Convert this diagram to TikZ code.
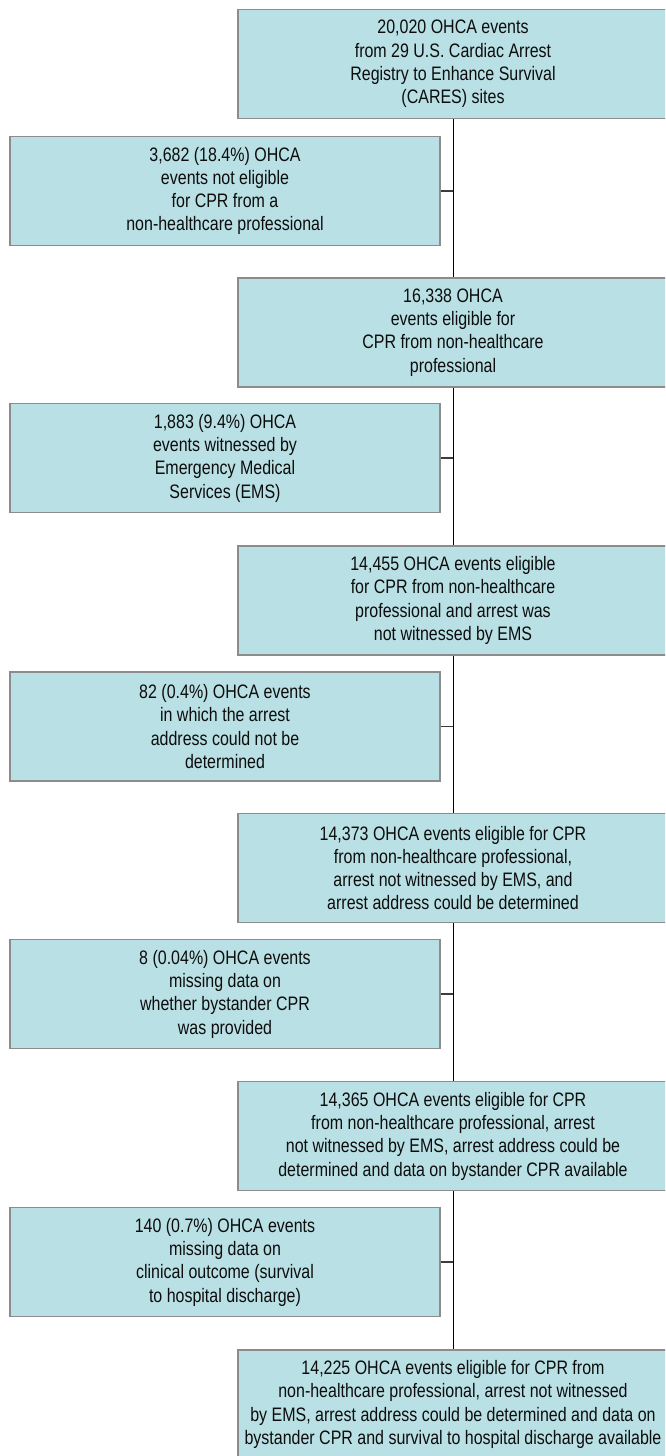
\documentclass[tikz,border=0pt]{standalone}
\usepackage{fontspec}
\setmainfont{Liberation Sans}[FakeStretch=0.82]
\definecolor{boxfill}{RGB}{185,224,228}
\definecolor{boxline}{RGB}{140,140,140}
\definecolor{conn}{RGB}{60,60,60}
\begin{document}
\begin{tikzpicture}[x=1pt,y=-1pt,
  flowbox/.style={draw=boxline,line width=1.3pt,fill=boxfill,inner sep=0pt,
    minimum height=109pt,align=center,
    font=\fontsize{19.5}{23.3}\selectfont,text=black!95},
  rbox/.style={flowbox,minimum width=430pt},
  lbox/.style={flowbox,minimum width=430pt},
  vline/.style={draw=black,line width=1pt},
  hline/.style={draw=conn,line width=1.5pt}]
\clip (0,0) rectangle (665,1456);
\fill[white] (0,0) rectangle (665,1456);

\node[rbox] (r1) at (453,64) {20,020 OHCA events\\from 29 U.S. Cardiac Arrest\\Registry to Enhance Survival\\(CARES) sites};
\node[lbox] (l1) at (225,191) {3,682 (18.4\%) OHCA\\events not eligible\\for CPR from a\\non-healthcare professional};
\node[rbox] (r2) at (453,332.5) {16,338 OHCA\\events eligible for\\CPR from non-healthcare\\professional};
\node[lbox] (l2) at (225,458) {1,883 (9.4\%) OHCA\\events witnessed by\\Emergency Medical\\Services (EMS)};
\node[rbox] (r3) at (453,600.5) {14,455 OHCA events eligible\\for CPR from non-healthcare\\professional and arrest was\\not witnessed by EMS};
\node[lbox] (l3) at (225,726.5) {82 (0.4\%) OHCA events\\in which the arrest\\address could not be\\determined};
\node[rbox] (r4) at (453,868) {14,373 OHCA events eligible for CPR\\from non-healthcare professional,\\arrest not witnessed by EMS, and\\arrest address could be determined};
\node[lbox] (l4) at (225,994) {8 (0.04\%) OHCA events\\missing data on\\whether bystander CPR\\was provided};
\node[rbox] (r5) at (453,1136) {14,365 OHCA events eligible for CPR\\from non-healthcare professional, arrest\\not witnessed by EMS, arrest address could be\\determined and data on bystander CPR available};
\node[lbox] (l5) at (225,1262) {140 (0.7\%) OHCA events\\missing data on\\clinical outcome (survival\\to hospital discharge)};
\node[rbox] (r6) at (453,1404.5) {14,225 OHCA events eligible for CPR from\\non-healthcare professional, arrest not witnessed\\by EMS, arrest address could be determined and data on\\bystander CPR and survival to hospital discharge available};

\draw[vline] (r1.south) -- (r2.north);
\draw[vline] (r2.south) -- (r3.north);
\draw[vline] (r3.south) -- (r4.north);
\draw[vline] (r4.south) -- (r5.north);
\draw[vline] (r5.south) -- (r6.north);

\draw[hline] (l1.east) -- (l1.east -| r1.south);
\draw[hline] (l2.east) -- (l2.east -| r1.south);
\draw[hline] (l3.east) -- (l3.east -| r1.south);
\draw[hline] (l4.east) -- (l4.east -| r1.south);
\draw[hline] (l5.east) -- (l5.east -| r1.south);
\end{tikzpicture}
\end{document}
